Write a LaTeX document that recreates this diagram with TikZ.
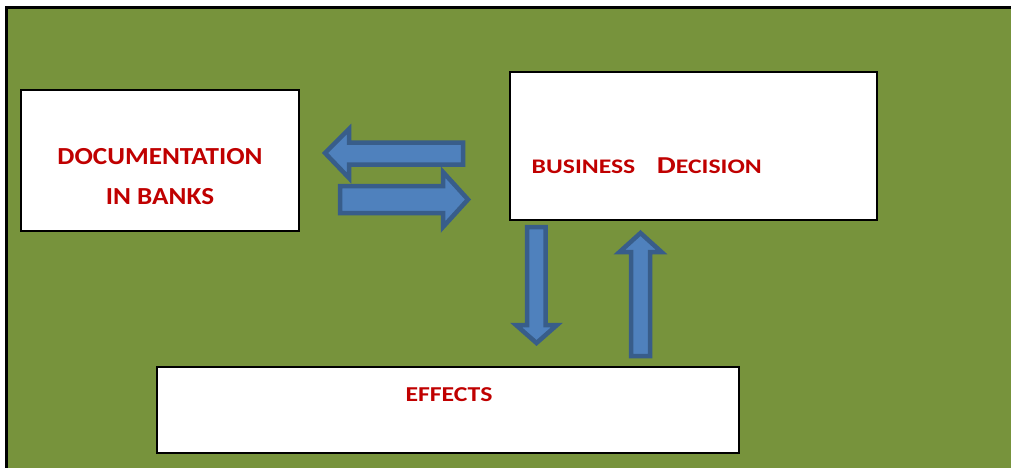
\documentclass[tikz,border=0pt]{standalone}
\usepackage{fontspec}
\setmainfont{Carlito}
\definecolor{bggreen}{HTML}{77933C}
\definecolor{arrfill}{HTML}{4F81BD}
\definecolor{arrline}{HTML}{385D8A}
\definecolor{txtred}{HTML}{C00000}
\begin{document}
\begin{tikzpicture}[x=1pt,y=-1pt,
  box/.style={draw=black,line width=1.2pt,fill=white,inner sep=0pt},
  blockarrow/.style={fill=arrfill,draw=arrline,line width=4.5pt,line join=miter},
  lbl/.style={text=txtred,font=\bfseries,inner sep=0pt}]
\useasboundingbox (0,0) rectangle (1011,468);
\fill[white] (0,0) rectangle (1011,468);
\begin{scope}
\clip (0,0) rectangle (1011,468);
\draw[fill=bggreen,line width=2.5pt,draw=black] (6.5,7.5) rectangle (1030,490);
\end{scope}
% boxes
\node[box,minimum width=278pt,minimum height=141pt] (doc) at (160,160.5) {};
\node[box,minimum width=367pt,minimum height=148pt] (bus) at (693.5,146) {};
\node[box,minimum width=582pt,minimum height=86pt] (eff) at (448,410) {};
% labels
\node[lbl,anchor=base,font=\bfseries\fontsize{24.5}{28}\selectfont] (t1) at (160,164) {\scalebox{1.109}[1]{DOCUMENTATION}};
\node[lbl,anchor=base,font=\bfseries\fontsize{24.5}{28}\selectfont] (t2) at (160,204) {\scalebox{1.109}[1]{IN BANKS}};
\node[lbl,anchor=base west,font=\bfseries\fontsize{20.7}{24}\selectfont] (t3) at (531.5,173.3) {\scalebox{1.24}[1]{BUSINESS\hspace{17.5pt}{\fontsize{24.3}{28}\selectfont D}ECISION}};
\node[lbl,anchor=base,font=\bfseries\fontsize{21.2}{24}\selectfont] (t4) at (449,401.7) {\scalebox{1.214}[1]{EFFECTS}};
% block arrows
\draw[blockarrow] (325,153) -- (349,129) -- (349,142.5) -- (463,142.5) -- (463,164.5) -- (349,164.5) -- (349,178) -- cycle;
\draw[blockarrow] (468,199.5) -- (443,227) -- (443,213) -- (340,213) -- (340,186) -- (443,186) -- (443,172) -- cycle;
\draw[blockarrow] (536.5,343) -- (516,325) -- (527,325) -- (527,227) -- (545.5,227) -- (545.5,325) -- (557,325) -- cycle;
\draw[blockarrow] (640.5,233) -- (661.5,252) -- (650,252) -- (650,356) -- (631,356) -- (631,252) -- (619.5,252) -- cycle;
\end{tikzpicture}
\end{document}
